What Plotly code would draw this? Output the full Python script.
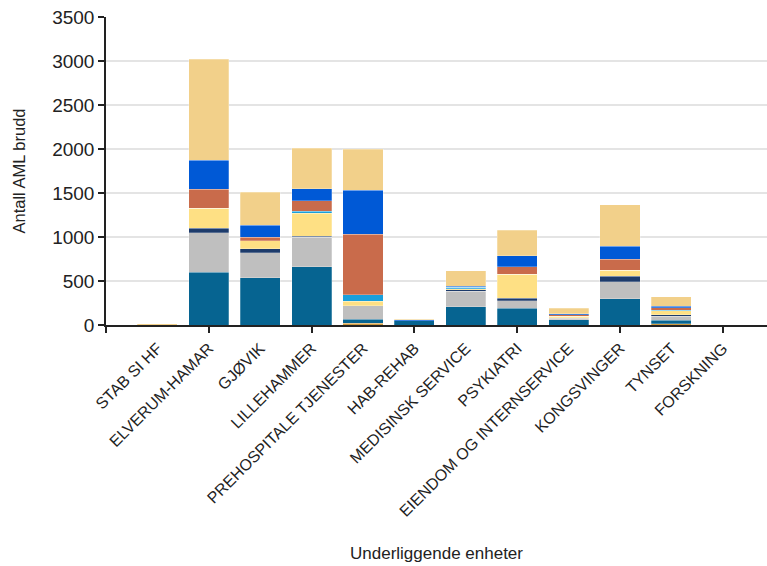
import plotly.graph_objects as go

# Units along the x axis
categories = [
    "STAB SI HF", "ELVERUM-HAMAR", "GJØVIK", "LILLEHAMMER",
    "PREHOSPITALE TJENESTER", "HAB-REHAB", "MEDISINSK SERVICE", "PSYKIATRI",
    "EIENDOM OG INTERNSERVICE", "KONGSVINGER", "TYNSET", "FORSKNING",
]

# Number of breaches per breach type (stacked bottom to top)
type_1 = [0, 0, 0, 0, 18, 0, 0, 0, 0, 0, 15, 0]
type_2 = [0, 600, 535, 660, 46, 50, 205, 190, 60, 300, 40, 0]
type_3 = [0, 450, 285, 335, 152, 0, 180, 83, 15, 190, 45, 0]
type_4 = [0, 50, 45, 15, 5, 0, 15, 31, 10, 65, 15, 0]
type_5 = [0, 225, 90, 260, 48, 0, 10, 273, 12, 70, 45, 0]
type_6 = [0, 0, 0, 20, 76, 0, 18, 0, 5, 0, 10, 0]
type_7 = [0, 220, 45, 120, 685, 0, 0, 87, 15, 120, 25, 0]
type_8 = [0, 330, 135, 137, 500, 8, 10, 125, 10, 150, 20, 0]
type_9 = [15, 1145, 375, 460, 470, 7, 177, 289, 63, 470, 105, 0]

series_names = ["Type 1", "Type 2", "Type 3", "Type 4", "Type 5",
                "Type 6", "Type 7", "Type 8", "Type 9"]
series_values = [type_1, type_2, type_3, type_4, type_5,
                 type_6, type_7, type_8, type_9]
series_colors = ["#d09a3e", "#066491", "#bfbfbf", "#1d3b6b", "#fee084",
                 "#1a9fdb", "#c96b4b", "#0059d6", "#f2d08a"]

positions = list(range(len(categories)))

fig = go.Figure()
for name, vals, col in zip(series_names, series_values, series_colors):
    fig.add_trace(go.Bar(
        x=positions, y=vals, name=name,
        marker=dict(color=col, line=dict(color="rgba(255,255,255,0.5)", width=0.5)),
        showlegend=False,
    ))

font_family = "Liberation Sans, Arial, sans-serif"

fig.update_layout(
    barmode="stack",
    bargap=0.22,
    width=767, height=566,
    margin=dict(l=106, r=0, t=17, b=241),
    paper_bgcolor="white",
    plot_bgcolor="white",
    font=dict(family=font_family, color="#222222"),
    xaxis=dict(
        range=[-1, 11.86],
        tickmode="array",
        tickvals=positions,
        ticktext=categories,
        tickangle=-45,
        tickfont=dict(size=16, color="#222222"),
        ticks="outside", ticklen=6, tickcolor="rgba(0,0,0,0)",
        minor=dict(tickmode="array", tickvals=[-1, 1, 3, 5, 7, 9, 11],
                   ticks="outside", ticklen=6, tickcolor="#222222",
                   tickwidth=1.5, showgrid=False),
        showline=True, linecolor="#222222", linewidth=1.5,
        showgrid=False, zeroline=False,
        title=dict(text="Underliggende enheter", font=dict(size=17, color="#222222"),
                   standoff=28),
    ),
    yaxis=dict(
        range=[0, 3500],
        tickmode="linear", tick0=0, dtick=500,
        tickfont=dict(size=19, color="#222222"),
        ticks="outside", ticklen=6, tickcolor="#222222", tickwidth=1.5,
        showline=True, linecolor="#222222", linewidth=1.5,
        showgrid=True, gridcolor="#e4e4e4", gridwidth=1.5,
        zeroline=False,
        title=dict(text="Antall AML brudd", font=dict(size=16.5, color="#222222"),
                   standoff=22),
    ),
)

fig.write_html("out.html")
